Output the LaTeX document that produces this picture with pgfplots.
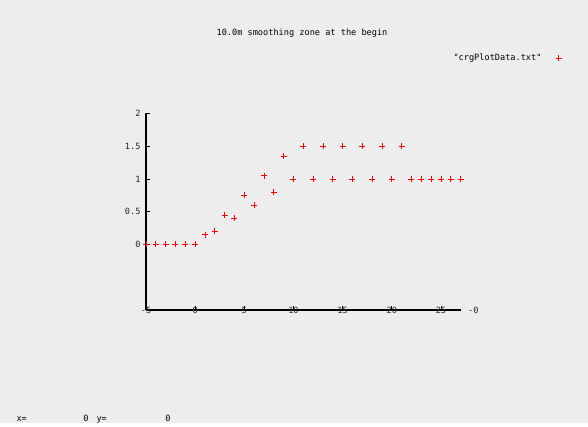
\documentclass[border=0pt]{standalone}
\usepackage{fontspec}
\setmonofont{DejaVu Sans Mono}
\usepackage{pgfplots}
\pgfplotsset{compat=1.18}
\newcommand{\gf}{\ttfamily\fontsize{8.6}{9}\selectfont}
\begin{document}
\begin{tikzpicture}[x=1pt,y=1pt]
\fill[fill={rgb,255:red,237;green,237;blue,237}] (0,0) rectangle (588,423);
\node[font=\gf] at (302,390) {10.0m smoothing zone at the begin};
\begin{axis}[
  at={(146pt,113pt)}, anchor=south west,
  scale only axis, width=314.6pt, height=196.5pt,
  xmin=-5, xmax=27, ymin=-1, ymax=2,
  axis lines=left, axis line style={-, line width=1.2pt, black},
  xtick={-5,0,5,10,15,20,25}, ytick={0,0.5,1,1.5,2},
  xticklabels={},
  tick align=inside, major tick length=4pt,
  tick style={black, line width=0.8pt},
  /pgf/number format/assume math mode=true,
  ticklabel style={font=\gf, text=black!85},
  yticklabel style={xshift=-2pt},
  legend style={at={(1.331,1.282)}, anchor=east, draw=none, fill=none, font=\gf},
  legend plot pos=right,
  clip=false,
  after end axis/.code={
    \foreach \v in {-5,0,5,10,15,20,25}{
      \node[font=\gf, text=black!85, anchor=center] at (axis cs:\v,-1) {\v};
    }
    \node[font=\gf, text=black!85] at (axis cs:28.3,-1) {-0};
  },
]
\addplot[only marks, mark=+, mark size=3pt, draw=red, mark options={draw=red, line width=0.8pt}] coordinates {
(-5,0) (-4,0) (-3,0) (-2,0) (-1,0) (0,0) (1,0.15) (2,0.2) (3,0.45) (4,0.4)
(5,0.75) (6,0.6) (7,1.05) (8,0.8) (9,1.35) (10,1) (11,1.5) (12,1) (13,1.5)
(14,1) (15,1.5) (16,1) (17,1.5) (18,1) (19,1.5) (20,1) (21,1.5) (22,1)
(23,1) (24,1) (25,1) (26,1) (27,1)
};
\addlegendentry{"crgPlotData.txt"\hspace*{12pt}\mbox{}}
\end{axis}
\node[font=\gf, anchor=base west] at (13,2) {x=};
\node[font=\gf, anchor=base] at (86,2) {0};
\node[font=\gf, anchor=base west] at (93,2) {y=};
\node[font=\gf, anchor=base] at (168,2) {0};
\end{tikzpicture}
\end{document}
